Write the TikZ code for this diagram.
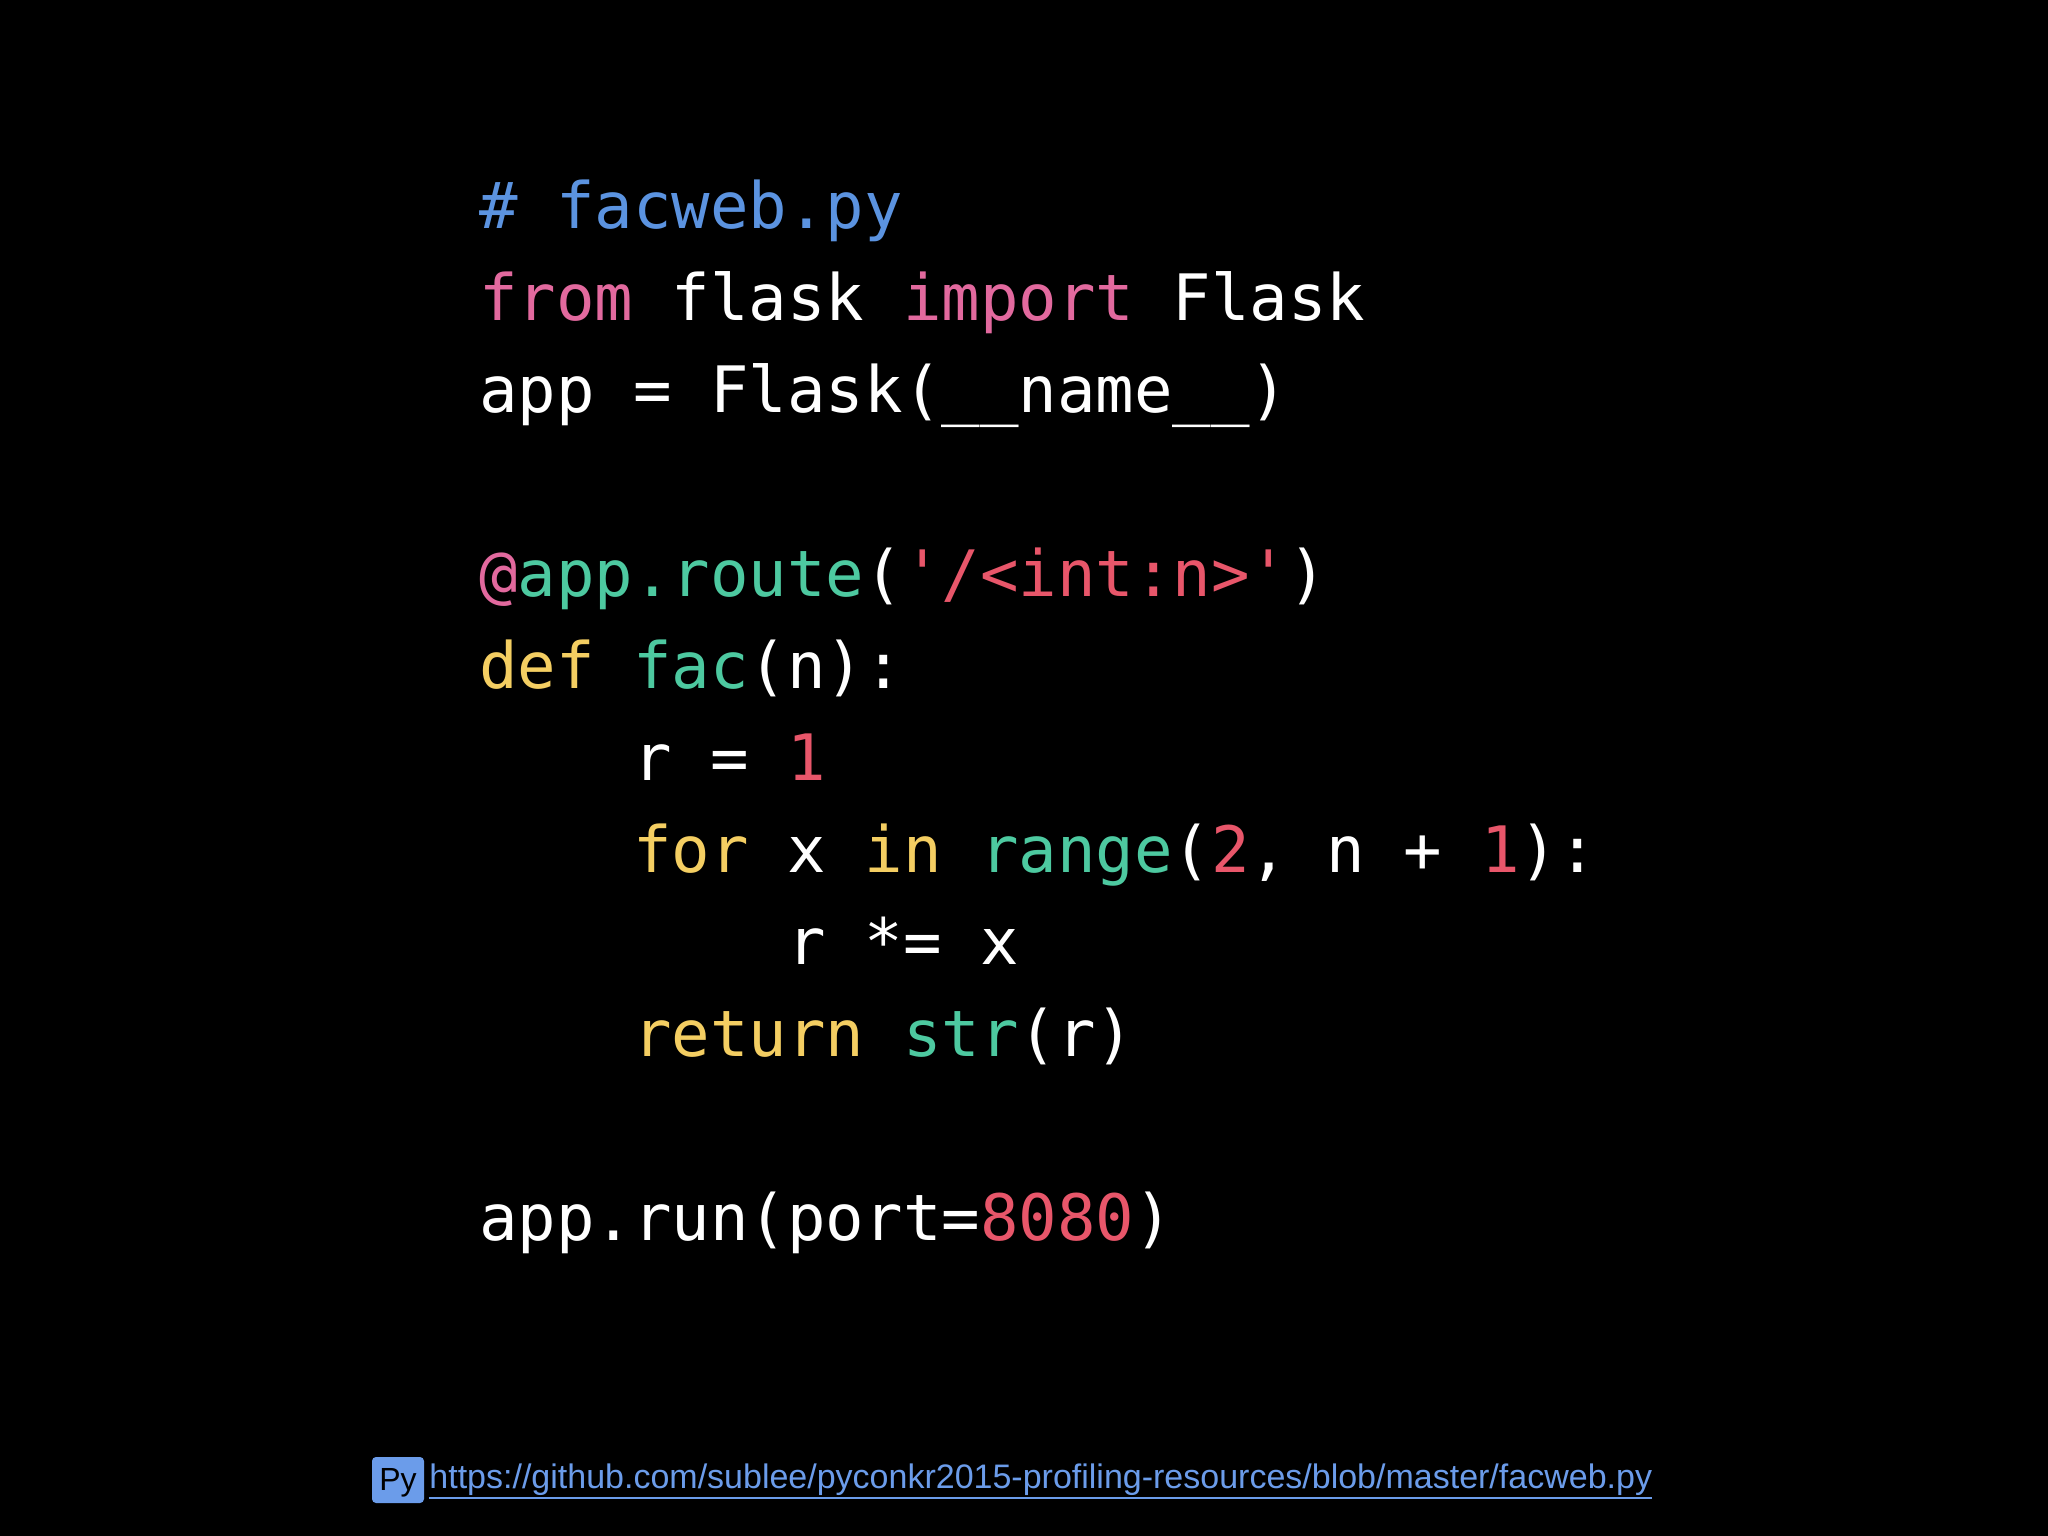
\documentclass[tikz,border=0pt]{standalone}
\usepackage{fontspec}
\setmonofont{DejaVu Sans Mono}
\newfontfamily\footfont{Liberation Sans}
\definecolor{cblue}{HTML}{5B93E0}
\definecolor{cpink}{HTML}{E2699E}
\definecolor{cteal}{HTML}{4DC9A0}
\definecolor{cred}{HTML}{E8566A}
\definecolor{cyel}{HTML}{F4CE62}
\definecolor{lnk}{HTML}{6B9CEA}
\tikzset{code/.style={anchor=base west,inner sep=0pt,text=white,font=\fontsize{64}{64}\ttfamily}}
\newcommand{\K}[2]{\textcolor{#1}{#2}}
\begin{document}
\begin{tikzpicture}[x=1pt,y=-1pt]
\fill[black] (0,0) rectangle (2048,1536);
\useasboundingbox (0,0) rectangle (2048,1536);
\node[code] (l1) at (479,228) {\K{cblue}{\#\ facweb.py}};
\node[code] (l2) at (479,320) {\K{cpink}{from}\ flask\ \K{cpink}{import}\ Flask};
\node[code] (l3) at (479,412) {app\ =\ Flask(\_\_name\_\_)};
\node[code] (l5) at (479,596) {\K{cpink}{@}\K{cteal}{app.route}(\K{cred}{'/<int:n>'})};
\node[code] (l6) at (479,688) {\K{cyel}{def}\ \K{cteal}{fac}(n):};
\node[code] (l7) at (479,780) {\ \ \ \ r\ =\ \K{cred}{1}};
\node[code] (l8) at (479,872) {\ \ \ \ \K{cyel}{for}\ x\ \K{cyel}{in}\ \K{cteal}{range}(\K{cred}{2},\ n\ +\ \K{cred}{1}):};
\node[code] (l9) at (479,964) {\ \ \ \ \ \ \ \ r\ *=\ x};
\node[code] (l10) at (479,1056) {\ \ \ \ \K{cyel}{return}\ \K{cteal}{str}(r)};
\node[code] (l12) at (479,1240) {app.run(port=\K{cred}{8080})};
\node[fill=lnk,rounded corners=4pt,minimum width=52pt,minimum height=46pt,inner sep=0pt,text=black,font=\fontsize{32}{32}\footfont,text depth=2pt] (py) at (398,1480) {Py};
\node[anchor=west,inner sep=0pt,text=lnk,font=\fontsize{34}{34}\footfont] (url) at ([xshift=5pt]py.east) {https://github.com/sublee/pyconkr2015-profiling-resources/blob/master/facweb.py};
\draw[lnk,line width=2pt] ([yshift=-2pt]url.south west) -- ([yshift=-2pt]url.south east);
\end{tikzpicture}
\end{document}
